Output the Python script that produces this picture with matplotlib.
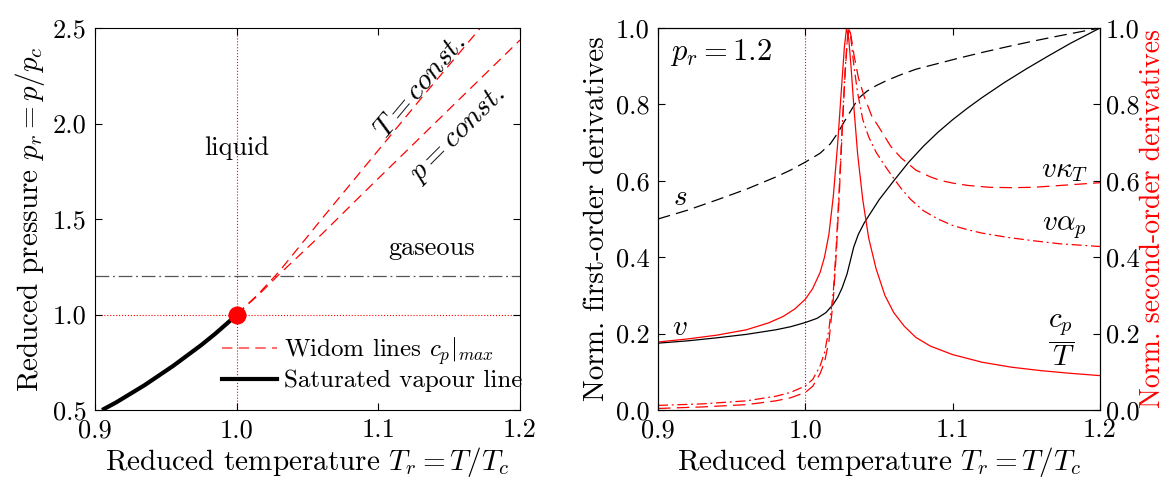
import matplotlib.pyplot as plt
from matplotlib.lines import Line2D
from matplotlib.ticker import FormatStrFormatter

plt.rcParams['font.family'] = 'cmr10'
plt.rcParams['mathtext.fontset'] = 'cm'
plt.rcParams['axes.formatter.use_mathtext'] = True
plt.rcParams['axes.unicode_minus'] = False

# ---- left panel: phase diagram ----
sat_Tr = [0.905, 0.915, 0.925, 0.935, 0.945, 0.955, 0.965, 0.975, 0.985, 0.995, 1.0]
sat_pr = [0.50, 0.54, 0.585, 0.63, 0.68, 0.73, 0.785, 0.84, 0.90, 0.965, 1.0]

widomT_Tr = [1.0, 1.015, 1.03, 1.06, 1.09, 1.13, 1.172]
widomT_pr = [1.0, 1.105, 1.225, 1.5, 1.77, 2.13, 2.5]

widomp_Tr = [1.0, 1.015, 1.03, 1.06, 1.09, 1.13, 1.2]
widomp_pr = [1.0, 1.1, 1.21, 1.42, 1.64, 1.93, 2.437]

p_iso = 1.2

# ---- right panel: normalised derivatives along p_r = 1.2 ----
s_T = [0.9, 0.92, 0.94, 0.96, 0.98, 0.99, 1.0, 1.01, 1.017, 1.022, 1.026, 1.03, 1.034,
       1.0373, 1.042, 1.048, 1.0555, 1.065, 1.075, 1.09, 1.103, 1.12, 1.137, 1.155,
       1.173, 1.2]
s_val = [0.5, 0.523, 0.55, 0.578, 0.61, 0.628, 0.649, 0.672, 0.697, 0.725, 0.752, 0.778,
         0.803, 0.82, 0.835, 0.849, 0.863, 0.878, 0.892, 0.907, 0.92, 0.936, 0.951,
         0.966, 0.98, 1.0]

v_T = [0.9, 0.92, 0.94, 0.96, 0.98, 0.99, 1.0, 1.008, 1.014, 1.019, 1.022, 1.025,
       1.0283, 1.0305, 1.0328, 1.036, 1.04, 1.045, 1.05, 1.06, 1.07, 1.08, 1.09, 1.1,
       1.11, 1.12, 1.135, 1.15, 1.165, 1.18, 1.2]
v_val = [0.175, 0.181, 0.189, 0.198, 0.21, 0.218, 0.229, 0.24, 0.255, 0.277, 0.295, 0.32,
         0.356, 0.39, 0.426, 0.46, 0.49, 0.52, 0.55, 0.6, 0.648, 0.69, 0.727, 0.76,
         0.79, 0.818, 0.857, 0.893, 0.927, 0.96, 1.0]

cp_T = [0.9, 0.92, 0.94, 0.96, 0.975, 0.985, 0.993, 1.0, 1.005, 1.01, 1.013, 1.016,
        1.019, 1.022, 1.0245, 1.0265, 1.028, 1.0295, 1.031, 1.033, 1.0355, 1.039,
        1.043, 1.048, 1.054, 1.06, 1.067, 1.075, 1.085, 1.1, 1.12, 1.14, 1.16, 1.18, 1.2]
cp_val = [0.178, 0.186, 0.196, 0.21, 0.228, 0.245, 0.265, 0.29, 0.318, 0.36, 0.4, 0.46,
          0.56, 0.7, 0.84, 0.95, 1.0, 0.97, 0.9, 0.79, 0.67, 0.55,
          0.45, 0.37, 0.3, 0.255, 0.22, 0.19, 0.167, 0.145, 0.125, 0.112, 0.103, 0.096, 0.09]

kap_T = [0.9, 0.93, 0.96, 0.98, 0.99, 1.0, 1.005, 1.01, 1.013, 1.016, 1.019, 1.021,
         1.023, 1.025, 1.027, 1.0285, 1.0298, 1.031, 1.033, 1.036, 1.04, 1.045, 1.05,
         1.058, 1.065, 1.075, 1.085, 1.0916, 1.1, 1.11, 1.125, 1.14, 1.155, 1.17,
         1.185, 1.2]
kap_val = [0.004, 0.008, 0.014, 0.024, 0.032, 0.046, 0.062, 0.095, 0.125, 0.18, 0.29, 0.41,
           0.56, 0.73, 0.88, 0.97, 1.0, 0.98, 0.93, 0.87, 0.82, 0.77, 0.74,
           0.69, 0.66, 0.628, 0.61, 0.601, 0.594, 0.588, 0.583, 0.582, 0.583, 0.587,
           0.591, 0.595]

alp_T = [0.9, 0.93, 0.96, 0.98, 0.99, 1.0, 1.005, 1.01, 1.013, 1.016, 1.019, 1.021,
         1.023, 1.025, 1.027, 1.0285, 1.0298, 1.031, 1.033, 1.0355, 1.039, 1.043, 1.048,
         1.053, 1.058, 1.065, 1.0713, 1.08, 1.09, 1.1, 1.11, 1.12, 1.137, 1.155, 1.173, 1.2]
alp_val = [0.012, 0.016, 0.024, 0.036, 0.046, 0.063, 0.08, 0.115, 0.15, 0.21, 0.31, 0.43,
           0.58, 0.74, 0.89, 0.97, 1.0, 0.97, 0.9, 0.83, 0.76, 0.715, 0.675,
           0.645, 0.617, 0.58, 0.552, 0.522, 0.5, 0.483, 0.472, 0.463, 0.452, 0.443, 0.435, 0.428]

fig = plt.figure(figsize=(11.75, 4.82), dpi=100)

# ---------------- left axes ----------------
ax1 = fig.add_axes([95 / 1175, 72 / 482, 425 / 1175, 382 / 482])
ax1.axvline(1.0, color='red', lw=0.8, ls=':', zorder=1)
ax1.axhline(1.0, color='red', lw=0.8, ls=':', zorder=1)
ax1.axhline(p_iso, color='#555555', lw=0.9, dashes=(11, 3, 1.5, 3), zorder=1)
ax1.plot(widomT_Tr, widomT_pr, color='red', lw=0.9, dashes=(8, 5))
ax1.plot(widomp_Tr, widomp_pr, color='red', lw=0.9, dashes=(8, 5))
ax1.plot(sat_Tr, sat_pr, color='black', lw=3, solid_capstyle='butt')
ax1.plot([1.0], [1.0], 'o', color='red', ms=12, zorder=5)

ax1.text(1.0, 1.87, 'liquid', fontsize=19, ha='center', va='center')
ax1.text(1.1375, 1.348, 'gaseous', fontsize=19, ha='center', va='center')
ax1.text(1.13, 2.19, '$T = const.$', fontsize=21, ha='center', va='center', rotation=50)
ax1.text(1.156, 1.94, '$p = const.$', fontsize=21, ha='center', va='center', rotation=45)

handles = [Line2D([], [], color='#ff7070', lw=1.5, dashes=(5, 3)),
           Line2D([], [], color='black', lw=3)]
ax1.legend(handles, ['Widom lines $c_p|_{max}$', 'Saturated vapour line'],
           loc='lower right', bbox_to_anchor=(1.03, 0.02), frameon=False,
           fontsize=18, handlelength=2.2, handletextpad=0.3, labelspacing=0.1,
           borderaxespad=0.0)

ax1.set_xlim(0.9, 1.2)
ax1.set_ylim(0.5, 2.5)
ax1.set_xticks([0.9, 1.0, 1.1, 1.2])
ax1.set_yticks([0.5, 1.0, 1.5, 2.0, 2.5])
ax1.xaxis.set_major_formatter(FormatStrFormatter('%.1f'))
ax1.yaxis.set_major_formatter(FormatStrFormatter('%.1f'))
ax1.tick_params(direction='in', top=True, right=True, labelsize=19, length=5, pad=6)
ax1.set_xlabel('Reduced temperature $T_r = T/T_c$', fontsize=21, labelpad=2)
ax1.set_ylabel('Reduced pressure $p_r = p/p_c$', fontsize=21, labelpad=4)

# ---------------- right axes ----------------
ax2 = fig.add_axes([658 / 1175, 72 / 482, 442 / 1175, 382 / 482])
ax2.axvline(1.0, color='red', lw=0.8, ls=':', zorder=1)
ax2.plot(s_T, s_val, color='black', lw=0.9, dashes=(10, 5))
ax2.plot(v_T, v_val, color='black', lw=0.9)
ax2.set_xlim(0.9, 1.2)
ax2.set_ylim(0.0, 1.0)
ax2.set_xticks([0.9, 1.0, 1.1, 1.2])
ax2.set_yticks([0.0, 0.2, 0.4, 0.6, 0.8, 1.0])
ax2.xaxis.set_major_formatter(FormatStrFormatter('%.1f'))
ax2.yaxis.set_major_formatter(FormatStrFormatter('%.1f'))
ax2.tick_params(direction='in', top=True, labelsize=19, length=5, pad=6)
ax2.set_xlabel('Reduced temperature $T_r = T/T_c$', fontsize=21, labelpad=2)
ax2.set_ylabel('Norm. first-order derivatives', fontsize=21, labelpad=4)

ax3 = ax2.twinx()
ax3.axhline(1.0, color='red', lw=0.8, ls=':')
ax3.plot(cp_T, cp_val, color='red', lw=0.9)
ax3.plot(kap_T, kap_val, color='red', lw=0.9, dashes=(10, 5))
ax3.plot(alp_T, alp_val, color='red', lw=0.9, dashes=(8, 3, 1.5, 3))
ax3.set_ylim(0.0, 1.0)
ax3.set_yticks([0.0, 0.2, 0.4, 0.6, 0.8, 1.0])
ax3.yaxis.set_major_formatter(FormatStrFormatter('%.1f'))
ax3.tick_params(direction='in', labelsize=19, length=5, pad=4)
ax3.set_ylabel('Norm. second-order derivatives', fontsize=20, color='red', labelpad=0)

ax2.text(0.908, 0.937, '$p_r = 1.2$', fontsize=22, ha='left', va='center')
ax2.text(0.915, 0.556, '$s$', fontsize=21, ha='center', va='center')
ax2.text(0.915, 0.216, '$v$', fontsize=21, ha='center', va='center')
ax2.text(1.176, 0.627, r'$v\kappa_T$', fontsize=21, ha='center', va='center')
ax2.text(1.176, 0.478, r'$v\alpha_p$', fontsize=21, ha='center', va='center')
ax2.text(1.174, 0.181, r'$\dfrac{c_p}{T}$', fontsize=21, ha='center', va='center')

plt.savefig('out.png', dpi=100)
